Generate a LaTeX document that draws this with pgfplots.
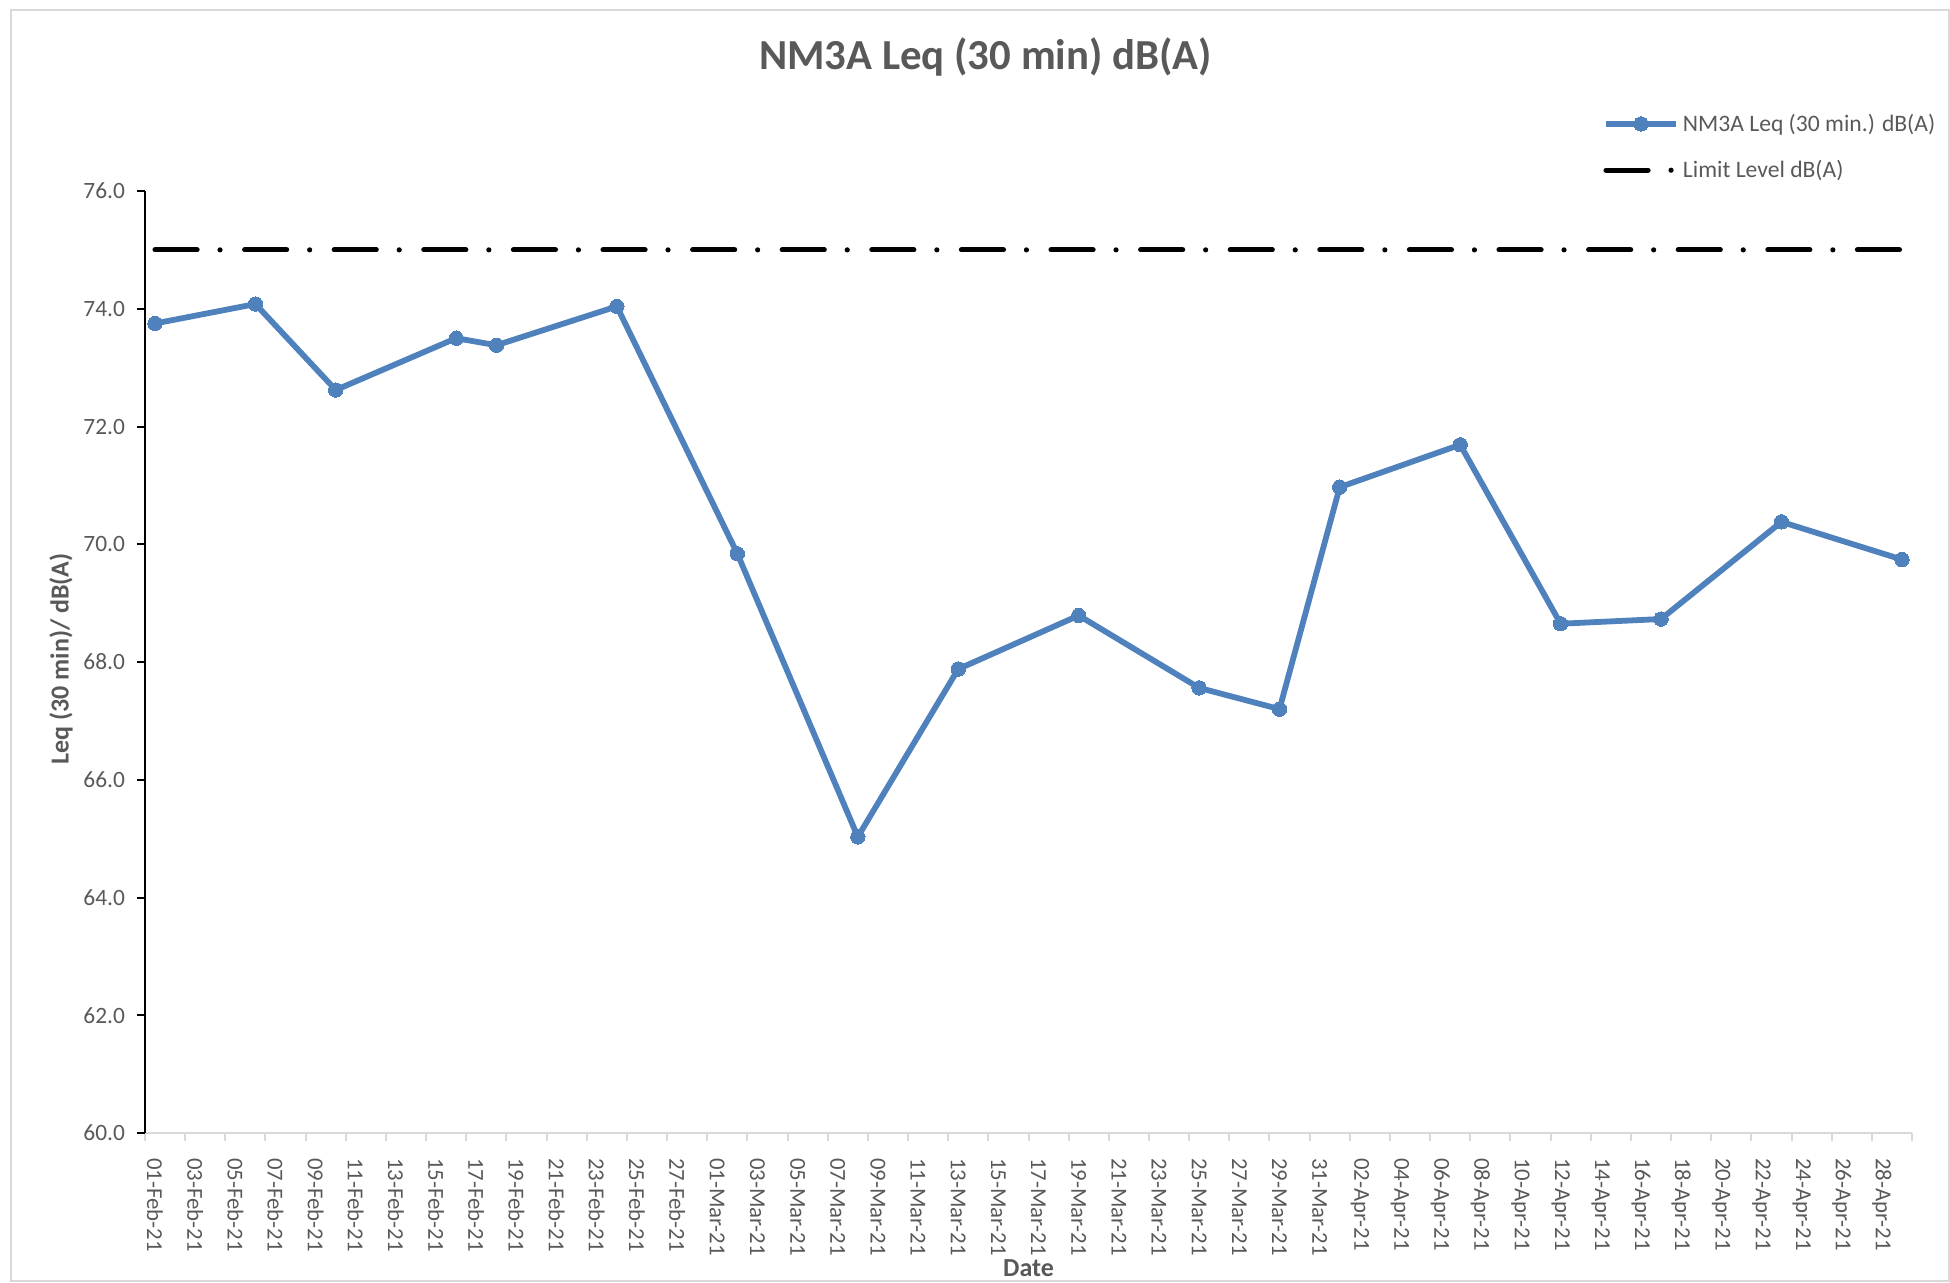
\documentclass[border=0pt]{standalone}
\usepackage{fontspec}
\setmainfont{Carlito}
\usepackage{pgfplots}
\pgfplotsset{compat=1.18}
\definecolor{txtgray}{RGB}{89,89,89}
\definecolor{blueline}{RGB}{79,129,189}
\definecolor{axgray}{RGB}{217,217,217}
\begin{document}
\begin{tikzpicture}[x=1pt,y=1pt]
\path[use as bounding box] (0,0) rectangle (975,641);
\draw[axgray, line width=0.75pt] (5.5,0.5) rectangle (974.5,636);
\begin{axis}[
  scale only axis, width=883.5pt, height=471pt,
  at={(72.5pt,74.5pt)}, anchor=south west,
  xmin=-0.5, xmax=87.5, ymin=60, ymax=76,
  axis x line*=bottom, axis y line*=left,
  x axis line style={axgray, line width=1pt},
  y axis line style={black, line width=1pt},
  tick align=outside,
  major tick length=4pt, minor tick length=4pt,
  xtick={0,2,...,86},
  minor xtick={-0.5,1.5,...,87.5},
  major x tick style={draw=none},
  minor x tick style={axgray, line width=1pt},
  y tick style={black, line width=1pt},
  xticklabels={01-Feb-21,03-Feb-21,05-Feb-21,07-Feb-21,09-Feb-21,11-Feb-21,13-Feb-21,15-Feb-21,17-Feb-21,19-Feb-21,21-Feb-21,23-Feb-21,25-Feb-21,27-Feb-21,01-Mar-21,03-Mar-21,05-Mar-21,07-Mar-21,09-Mar-21,11-Mar-21,13-Mar-21,15-Mar-21,17-Mar-21,19-Mar-21,21-Mar-21,23-Mar-21,25-Mar-21,27-Mar-21,29-Mar-21,31-Mar-21,02-Apr-21,04-Apr-21,06-Apr-21,08-Apr-21,10-Apr-21,12-Apr-21,14-Apr-21,16-Apr-21,18-Apr-21,20-Apr-21,22-Apr-21,24-Apr-21,26-Apr-21,28-Apr-21},
  ytick={60,62,...,76},
  ticklabel style={font=\fontsize{11.7}{13}\selectfont, text=txtgray},
  xticklabel style={rotate=-90, anchor=west, xshift=5pt, font=\fontsize{11.4}{13}\selectfont},
  yticklabel style={xshift=-2.5pt, /pgf/number format/.cd, fixed, fixed zerofill, precision=1, assume math mode=true},
  legend style={at={(0.825,1.0866)}, anchor=north west, draw=none, fill=none, inner sep=0pt,
    row sep=9pt, font=\fontsize{11.8}{13}\selectfont, text=txtgray, legend cell align=left},
  clip=false,
]
\addplot[blueline, line width=2.9pt, line join=round, mark=*, mark size=3.6pt,
  mark options={fill=blueline, draw=blueline, line width=0pt},
  legend image code/.code={\draw[mark repeat=2, mark phase=2] plot coordinates {(0pt,0pt) (17.5pt,0pt) (35pt,0pt)};}]
coordinates {
(0,73.75) (5,74.08) (9,72.62) (15,73.50) (17,73.38) (23,74.04)
(29,69.84) (35,65.03) (40,67.88) (46,68.79) (52,67.56) (56,67.20)
(59,70.97) (65,71.69) (70,68.65) (75,68.73) (81,70.38) (87,69.74)
};
\addlegendentry{NM3A Leq (30 min.) dB(A)}
\addplot[black, line width=2.6pt, line cap=round,
  dash pattern=on 21pt off 11.5pt on 0pt off 12.3pt,
  legend image code/.code={\draw (0pt,0pt) -- (34pt,0pt);}]
coordinates {(0,75) (87,75)};
\addlegendentry{Limit Level dB(A)}
\end{axis}
\node[anchor=base, font=\fontsize{21.4}{25}\selectfont\bfseries, text=txtgray] at (492.8,606) {NM3A Leq (30 min) dB(A)};
\node[rotate=90, font=\fontsize{13}{15}\selectfont\bfseries, text=txtgray] at (30.5,311.5) {Leq (30 min)/ dB(A)};
\node[anchor=base, font=\fontsize{13}{15}\selectfont\bfseries, text=txtgray] at (514.25,3) {Date};
\end{tikzpicture}
\end{document}
